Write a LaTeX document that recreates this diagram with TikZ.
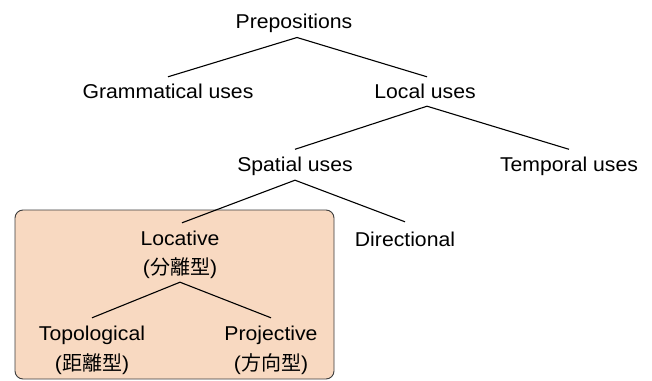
\documentclass[tikz,border=0pt]{standalone}
\usepackage{fontspec}
\setmainfont{Liberation Sans}[FakeStretch=1.06]
\newfontfamily\jp{Noto Sans CJK JP}
\definecolor{peach}{RGB}{248,217,193}
\definecolor{boxedge}{RGB}{60,60,60}
\begin{document}
\begin{tikzpicture}[x=1pt,y=-1pt,
  lbl/.style={inner sep=0pt,anchor=base,text height=14.5pt,text depth=4.5pt,
    font=\fontsize{20}{24}\selectfont},
  edge/.style={line width=1.1pt,black}]
\useasboundingbox (0,0) rectangle (652,380);
\fill[white] (0,0) rectangle (652,380);
\draw[fill=peach,draw=boxedge,line width=0.9pt,rounded corners=8pt] (15,210) rectangle (334,379);
% labels (positioned by baseline)
\node[lbl] (prep) at (294,28.5) {Prepositions};
\node[lbl] (gram) at (168,98.5) {Grammatical uses};
\node[lbl] (local) at (425,98.5) {Local uses};
\node[lbl] (spatial) at (295,171) {Spatial uses};
\node[lbl] (temporal) at (569,171) {Temporal uses};
\node[lbl] (locative) at (180,245) {Locative};
\node[lbl] (locsub) at (180,274) {({\jp 分離型})};
\node[lbl] (direct) at (405,246) {Directional};
\node[lbl] (topo) at (92,340) {Topological};
\node[lbl] (toposub) at (92,370) {({\jp 距離型})};
\node[lbl] (proj) at (271,340) {Projective};
\node[lbl] (projsub) at (271,370) {({\jp 方向型})};
% apex points
\coordinate (a1) at ([xshift=3pt,yshift=-4.3pt]prep.south);
\coordinate (a2) at ([xshift=2pt,yshift=-3pt]local.south);
\coordinate (a3) at ([yshift=-4.5pt]spatial.south);
\coordinate (a4) at ([yshift=-3.5pt]locsub.south);
% connectors
\draw[edge] (a1) -- ([yshift=7pt]gram.north);
\draw[edge] (a1) -- ([xshift=2pt,yshift=7pt]local.north);
\draw[edge] (a2) -- ([yshift=7pt]spatial.north);
\draw[edge] (a2) -- ([yshift=7pt]temporal.north);
\draw[edge] (a3) -- ([xshift=2pt,yshift=7.5pt]locative.north);
\draw[edge] (a3) -- ([yshift=9.5pt]direct.north);
\draw[edge] (a4) -- ([yshift=7.5pt]topo.north);
\draw[edge] (a4) -- ([yshift=7.5pt]proj.north);
\end{tikzpicture}
\end{document}
